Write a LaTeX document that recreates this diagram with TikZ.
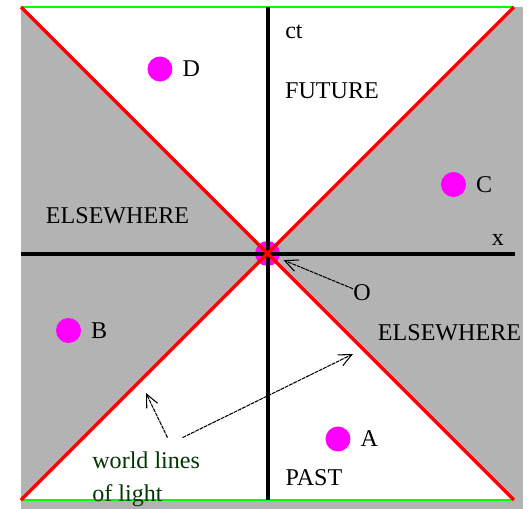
\documentclass[tikz,border=0pt]{standalone}
\usepackage{fontspec}
\setmainfont{Liberation Serif}
\usepackage{tikz}
\usetikzlibrary{positioning,arrows.meta}
\usepackage{xcolor}

\definecolor{bggray}{RGB}{179,179,179}
\definecolor{lightred}{RGB}{255,0,0}
\definecolor{edgegreen}{RGB}{0,255,0}
\definecolor{darkgreen}{RGB}{0,55,0}
\definecolor{dotpink}{RGB}{255,0,255}

\begin{document}
\begin{tikzpicture}[>={Straight Barb[length=2.6mm,width=2.4mm]},
  font=\fontsize{13.7}{18.8}\selectfont,
  event/.style={circle, fill=dotpink, minimum size=0.5cm, inner sep=0pt},
  evlbl/.style={inner sep=0pt},
  region/.style={inner sep=0pt},
  axis/.style={black, line width=1.8pt},
  cone/.style={lightred, line width=1.9pt},
  edge/.style={edgegreen, line width=1.1pt},
  ptr/.style={->, black, line width=0.6pt, dash pattern=on 2.2pt off 0.5pt}]
\useasboundingbox (-5.35,-5.11) rectangle (5.23,5.07);
% shaded elsewhere, white future/past
\fill[bggray] (-4.93,-5.11) rectangle (5.11,4.93);
\fill[white] (-4.93,4.93) -- (4.93,4.93) -- (0,0) -- cycle;
\fill[white] (-4.93,-4.93) -- (4.93,-4.93) -- (0,0) -- cycle;
\draw[edge] (-4.93,4.93) -- (4.93,4.93);
\draw[edge] (-4.93,-4.93) -- (4.93,-4.93);
\node[event] (O) at (0,0) {};
\draw[axis] (0.01,4.93) -- (0.01,-4.93);
\draw[axis] (-4.93,-0.01) -- (4.95,-0.01);
\draw[cone] (-4.93,4.93) -- (4.93,-4.93);
\draw[cone] (-4.93,-4.93) -- (4.93,4.93);
% events
\foreach \n/\x/\y in {A/1.41/-3.71, B/-3.98/-1.54, C/3.72/1.38, D/-2.15/3.69}{
  \node[event] (dot\n) at (\x,\y) {};
  \node[evlbl, right=0.19cm of dot\n] (lbl\n) {\n};}
\node[region] (future) at (1.29,3.25) {FUTURE};
\node[region] (past) at (0.93,-4.48) {PAST};
\node[region] (elsel) at (-3.0,0.76) {ELSEWHERE};
\node[region] (elser) at (3.64,-1.58) {ELSEWHERE};
\node[region] (ct) at (0.53,4.44) {ct};
\node[region] (xlbl) at (4.61,0.28) {x};
\node[region] (Olbl) at (1.89,-0.78) {O};
\draw[ptr, shorten >=0.09cm] (Olbl) -- (O);
% light rays
\node[anchor=north west, align=left, inner sep=0.28cm, darkgreen] (wl) at (-3.79,-3.682)
  {world lines\\of light};
\coordinate (tipL) at (-2.43,-2.79);
\coordinate (tipR) at (1.71,-2.01);
\draw[ptr] (wl.63) -- (tipL);
\draw[ptr] (wl.49) -- (tipR);
\end{tikzpicture}
\end{document}
